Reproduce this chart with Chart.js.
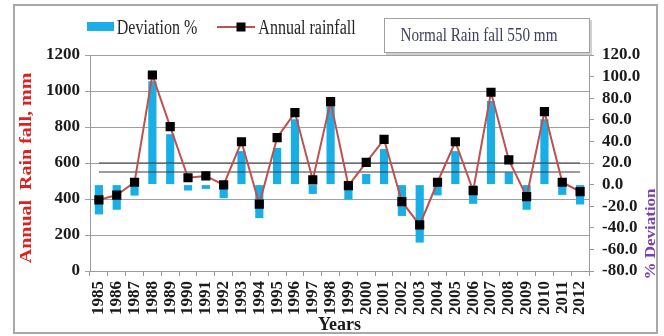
<!DOCTYPE html>
<html>
<head>
<meta charset="utf-8">
<title>Annual rainfall and deviation</title>
<script src="https://cdn.jsdelivr.net/npm/chart.js@4.4.0/dist/chart.umd.min.js"></script>
<style>
  body { margin: 0; background: #fff; }
</style>
</head>
<body>
<canvas id="rainChart" width="664" height="336"></canvas>
<script>
const years = ["1985", "1986", "1987", "1988", "1989", "1990", "1991", "1992", "1993", "1994",
    "1995", "1996", "1997", "1998", "1999", "2000", "2001", "2002", "2003", "2004",
    "2005", "2006", "2007", "2008", "2009", "2010", "2011", "2012"];
const rainfall = [395, 422, 493, 1089, 802, 518, 528, 478, 718, 372,
    741, 880, 506, 941, 474, 604, 731, 385, 256, 493,
    718, 446, 993, 617, 413, 885, 493, 441];
const deviation = [-27.6, -23.3, -10.2, 95.8, 46.7, -5.5, -4.0, -12.6, 31.0, -31.0,
    34.0, 60.5, -8.6, 72.8, -13.8, 9.8, 32.9, -29.0, -53.7, -10.0,
    31.0, -17.8, 77.4, 11.4, -23.3, 60.5, -9.5, -18.4];
const normalRain = 550;
const upperRain = 600;
const rainTicks = [0, 200, 400, 600, 800, 1000, 1200];
const deviationTicks = [-80, -60, -40, -20, 0, 20, 40, 60, 80, 100, 120];

const serif = "'Liberation Serif', 'Times New Roman', serif";
const barColor = "#1aaee6";
const lineColor = "#c0504d";

// text that is narrower than its height, like the squeezed original
const squeezed = (ctx, text, x, y, font, color, sx, rotate) => {
    ctx.save();
    ctx.translate(x, y);
    if (rotate) ctx.rotate(-Math.PI / 2);
    if (rotate) ctx.scale(1, sx); else ctx.scale(sx, 1);
    ctx.font = font;
    ctx.fillStyle = color;
    ctx.textAlign = "center";
    ctx.textBaseline = "middle";
    ctx.fillText(text, 0, 0);
    ctx.restore();
};

const decorations = {
    id: "decorations",
    beforeDraw: chart => {
        const ctx = chart.ctx;
        ctx.save();
        ctx.fillStyle = "#fff";
        ctx.fillRect(0, 0, chart.width, chart.height);
        ctx.strokeStyle = "#a8a8a8";
        ctx.lineWidth = 2;
        ctx.strokeRect(14, 5, 643, 328);
        ctx.restore();
    },
    afterDraw: chart => {
        const ctx = chart.ctx;
        ctx.save();
        // legend
        ctx.fillStyle = barColor;
        ctx.fillRect(87, 22, 27, 9);
        squeezed(ctx, chart.data.datasets[0].label, 157, 29, "20px " + serif, "#262626", 0.8);
        ctx.strokeStyle = lineColor;
        ctx.lineWidth = 2;
        ctx.beginPath();
        ctx.moveTo(217, 27);
        ctx.lineTo(255, 27);
        ctx.stroke();
        ctx.fillStyle = "#000";
        ctx.fillRect(236.5, 22.5, 9, 9);
        squeezed(ctx, chart.data.datasets[1].label, 307, 29, "20px " + serif, "#262626", 0.8);
        // note box
        ctx.fillStyle = "#d0d0d0";
        ctx.fillRect(386, 20, 206, 35);
        ctx.fillStyle = "#fff";
        ctx.fillRect(384, 18, 205, 34);
        ctx.strokeStyle = "#a0a0a0";
        ctx.lineWidth = 1;
        ctx.strokeRect(384.5, 18.5, 205, 34);
        squeezed(ctx, "Normal Rain fall " + normalRain + " mm", 479, 36, "19px " + serif, "#3c3f5e", 0.8);
        // axis titles
        squeezed(ctx, "Annual  Rain fall, mm", 27, 168, "bold 20px " + serif, "#e0201e", 0.8, true);
        squeezed(ctx, "% Deviation", 651, 234, "bold 17px " + serif, "#7a40b0", 0.9, true);
        ctx.restore();
    }
};

const ctx = document.getElementById("rainChart").getContext("2d");
new Chart(ctx, {
    type: "bar",
    data: {
        labels: years,
        datasets: [{
            label: "Deviation %",
            data: deviation,
            yAxisID: "y2",
            backgroundColor: barColor,
            barPercentage: 0.46,
            categoryPercentage: 1,
            order: 3
        }, {
            type: "line",
            label: "Annual rainfall",
            data: rainfall,
            yAxisID: "y",
            borderColor: lineColor,
            borderWidth: 2,
            pointStyle: "rect",
            pointRadius: 6.5,
            pointBackgroundColor: "#000",
            pointBorderColor: "#000",
            pointBorderWidth: 0,
            tension: 0,
            order: 0
        }, {
            type: "line",
            label: "Upper",
            data: years.map(() => upperRain),
            yAxisID: "y",
            borderColor: "#3a3a3a",
            borderWidth: 1.2,
            pointRadius: 0,
            order: 1
        }, {
            type: "line",
            label: "Normal",
            data: years.map(() => normalRain),
            yAxisID: "y",
            borderColor: "#3a3a3a",
            borderWidth: 1.2,
            pointRadius: 0,
            order: 1
        }]
    },
    options: {
        responsive: false,
        animation: false,
        layout: { padding: { top: 55, left: 0, right: 0, bottom: 0 } },
        plugins: {
            legend: { display: false },
            tooltip: { enabled: false }
        },
        scales: {
            x: {
                afterFit: s => { s.height = 65; },
                grid: {
                    drawOnChartArea: false,
                    tickLength: 5,
                    color: "#9a9a9a"
                },
                border: { color: "#9a9a9a" },
                ticks: {
                    autoSkip: false,
                    minRotation: 90,
                    maxRotation: 90,
                    padding: 5,
                    color: "#1a1a1a",
                    font: { family: serif, size: 17, weight: "bold" }
                },
                title: {
                    display: true,
                    text: "Years",
                    color: "#1a1a1a",
                    padding: 0,
                    font: { family: serif, size: 18, weight: "bold" }
                }
            },
            y: {
                position: "left",
                min: 0,
                max: 1200,
                afterFit: s => { s.width = 90; },
                afterBuildTicks: s => { s.ticks = rainTicks.map(v => ({ value: v })); },
                grid: { color: "#a0a0a0", tickLength: 5 },
                border: { color: "#9a9a9a" },
                ticks: {
                    autoSkip: false,
                    padding: 5,
                    color: "#1a1a1a",
                    font: { family: serif, size: 17, weight: "bold" },
                    callback: v => String(v)
                }
            },
            y2: {
                position: "right",
                min: -80,
                max: 120,
                afterFit: s => { s.width = 75; },
                afterBuildTicks: s => { s.ticks = deviationTicks.map(v => ({ value: v })); },
                grid: { drawOnChartArea: false, color: "#9a9a9a", tickLength: 5 },
                border: { color: "#9a9a9a" },
                ticks: {
                    autoSkip: false,
                    padding: 8,
                    color: "#1a1a1a",
                    font: { family: serif, size: 17, weight: "bold" },
                    callback: v => v.toFixed(1)
                }
            }
        }
    },
    plugins: [decorations]
});
</script>
</body>
</html>
